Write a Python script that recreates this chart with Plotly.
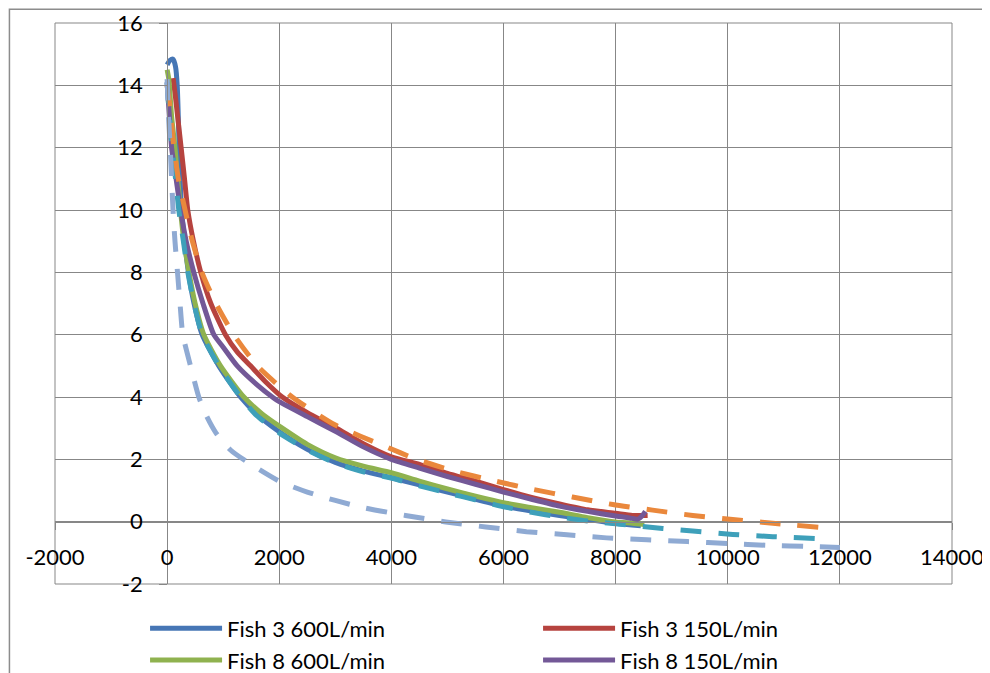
import plotly.graph_objects as go

# ---------------- data ----------------
fish3_600_x = [0, 50, 107, 150, 180, 215, 250, 300, 380, 480, 625, 922, 1309, 1600, 1950, 2500, 3000, 3500, 4000, 4500, 5000, 5500, 6000, 6500, 7000, 7500, 8000, 8450]
fish3_600_y = [14.66, 14.8, 14.84, 14.6, 14.0, 12.0, 10.2, 9.2, 8.0, 7.0, 6.0, 5.0, 4.0, 3.45, 2.95, 2.32, 1.9, 1.62, 1.41, 1.18, 0.95, 0.72, 0.5, 0.34, 0.2, 0.07, -0.05, -0.13]

fish3_150_x = [107, 150, 200, 250, 310, 368, 470, 600, 780, 1040, 1250, 1488, 1750, 2054, 2500, 3000, 3500, 4000, 4500, 5000, 5500, 6000, 6500, 7000, 7500, 8000, 8300, 8571]
fish3_150_y = [14.23, 13.6, 12.8, 12.0, 11.0, 10.0, 9.0, 8.0, 7.0, 6.0, 5.45, 5.0, 4.5, 4.0, 3.5, 3.02, 2.5, 2.08, 1.84, 1.55, 1.3, 1.03, 0.78, 0.57, 0.38, 0.27, 0.2, 0.2]

fish8_600_x = [0, 30, 80, 140, 238, 300, 390, 500, 655, 952, 1369, 1700, 2054, 2500, 3000, 3500, 4000, 4500, 5000, 5500, 6000, 6500, 7000, 7500, 8000, 8300, 8512]
fish8_600_y = [14.5, 14.2, 13.0, 12.0, 10.0, 9.0, 8.0, 7.0, 6.0, 5.0, 4.0, 3.45, 3.0, 2.48, 2.05, 1.78, 1.57, 1.3, 1.05, 0.82, 0.61, 0.45, 0.3, 0.13, -0.01, -0.05, -0.09]

fish8_150_x = [0, 40, 80, 160, 240, 340, 476, 640, 833, 1000, 1250, 1600, 1900, 2000, 2500, 3000, 3500, 4000, 4500, 5000, 5500, 6000, 6500, 7000, 7500, 8000, 8250, 8400, 8470, 8530]
fish8_150_y = [14.1, 13.0, 12.0, 11.0, 10.0, 9.0, 8.0, 7.0, 6.0, 5.6, 5.0, 4.4, 3.97, 3.85, 3.37, 2.9, 2.4, 2.0, 1.72, 1.45, 1.2, 0.95, 0.72, 0.5, 0.33, 0.18, 0.12, 0.08, 0.18, 0.33]

teal_x = [0, 40, 89, 150, 208, 290, 370, 480, 625, 922, 1309, 1600, 2000, 2500, 3000, 3500, 4000, 4500, 5000, 5500, 6000, 6500, 7000, 7500, 8000, 8839, 9375, 10089, 10804, 11696]
teal_y = [14.1, 13.0, 12.0, 11.0, 10.0, 9.0, 8.0, 7.0, 6.0, 5.0, 4.0, 3.4, 2.85, 2.3, 1.88, 1.6, 1.4, 1.15, 0.92, 0.7, 0.48, 0.3, 0.15, 0.02, -0.07, -0.22, -0.3, -0.41, -0.48, -0.55]

orange_x = [0, 50, 120, 200, 320, 450, 620, 870, 1190, 1607, 2232, 3000, 3870, 4450, 5110, 5830, 6540, 7230, 7950, 8660, 9375, 10089, 10804, 11696]
orange_y = [14.0, 13.3, 12.0, 11.0, 10.0, 9.0, 8.0, 7.0, 6.0, 5.0, 4.0, 3.1, 2.43, 2.0, 1.63, 1.31, 1.03, 0.79, 0.55, 0.37, 0.2, 0.07, -0.05, -0.19]

lightblue_x = [0, 25, 55, 80, 105, 140, 185, 230, 280, 417, 565, 700, 870, 1130, 1400, 2000, 2500, 3000, 3500, 4250, 4970, 5685, 6410, 7130, 7840, 8560, 9286, 10000, 10714, 11500, 12000]
lightblue_y = [14.2, 13.0, 12.0, 11.0, 10.0, 9.0, 8.0, 7.0, 6.0, 5.0, 4.0, 3.4, 2.85, 2.3, 1.95, 1.3, 0.95, 0.68, 0.45, 0.2, -0.01, -0.17, -0.32, -0.42, -0.52, -0.58, -0.64, -0.7, -0.76, -0.8, -0.83]

x_ticks = [-2000, 0, 2000, 4000, 6000, 8000, 10000, 12000, 14000]
y_ticks = [-2, 0, 2, 4, 6, 8, 10, 12, 14, 16]

FONT = "Lato, Carlito, Calibri, sans-serif"
GRID = "#878787"
FS = 22
LEG_FS = 22

fig = go.Figure()

solid = [
    ("Fish 3 600L/min", fish3_600_x, fish3_600_y, "#4676B5"),
    ("Fish 3 150L/min", fish3_150_x, fish3_150_y, "#B6433F"),
    ("Fish 8 600L/min", fish8_600_x, fish8_600_y, "#8FB24F"),
    ("Fish 8 150L/min", fish8_150_x, fish8_150_y, "#735897"),
]
for name, xs, ys, col in solid:
    fig.add_trace(go.Scatter(x=xs, y=ys, mode="lines", name=name,
                             line=dict(color=col, width=5, shape="spline", smoothing=0.6)))

dashed = [
    ("Series 5", teal_x, teal_y, "#3EA0BA"),
    ("Series 6", orange_x, orange_y, "#EA883C"),
    ("Series 7", lightblue_x, lightblue_y, "#8FAAD3"),
]
for name, xs, ys, col in dashed:
    fig.add_trace(go.Scatter(x=xs, y=ys, mode="lines", name=name, showlegend=False,
                             line=dict(color=col, width=5, dash="21px,17px",
                                       shape="spline", smoothing=0.6)))

# page body has an 8px margin: figure origin sits at (8, 8) in the window
fig.update_layout(
    width=982, height=665,
    paper_bgcolor="white", plot_bgcolor="white",
    margin=dict(l=47, r=38, t=15, b=89, autoexpand=False),
    font=dict(family=FONT, size=FS, color="black"),
    xaxis=dict(range=[-2000, 14000], tickvals=x_ticks, ticktext=[str(v) for v in x_ticks],
               showgrid=True, gridcolor=GRID, gridwidth=1, automargin=False,
               zeroline=False, showline=True, linecolor=GRID, linewidth=1,
               anchor="free", position=2 / 18,
               ticks="outside", ticklen=7, tickcolor=GRID,
               ticklabelstandoff=9, tickfont=dict(size=FS, family=FONT, color="black")),
    yaxis=dict(range=[-2, 16], tickvals=y_ticks, ticktext=[str(v) for v in y_ticks],
               showgrid=True, gridcolor=GRID, gridwidth=1, automargin=False,
               zeroline=False, showline=True, linecolor=GRID, linewidth=1,
               anchor="free", position=2000 / 16000,
               ticks="outside", ticklen=8, tickcolor=GRID,
               ticklabelstandoff=12, tickfont=dict(size=FS, family=FONT, color="black")),
    legend=dict(orientation="h", x=0.1004, y=-0.042, xanchor="left", yanchor="top",
                entrywidth=306, entrywidthmode="pixels", itemwidth=72,
                font=dict(size=LEG_FS, family=FONT, color="black"),
                bgcolor="rgba(0,0,0,0)", tracegroupgap=0),
    shapes=[
        dict(type="rect", xref="x domain", yref="y domain", x0=0, x1=1, y0=0, y1=1,
             line=dict(color=GRID, width=1), fillcolor="rgba(0,0,0,0)", layer="below"),
        dict(type="rect", xref="paper", yref="paper", x0=-0.0508, x1=1.06, y0=-0.25, y1=1.0245,
             line=dict(color="#8C8C8C", width=1.5), fillcolor="rgba(0,0,0,0)", layer="below"),
    ],
)

fig.write_html("out.html")
